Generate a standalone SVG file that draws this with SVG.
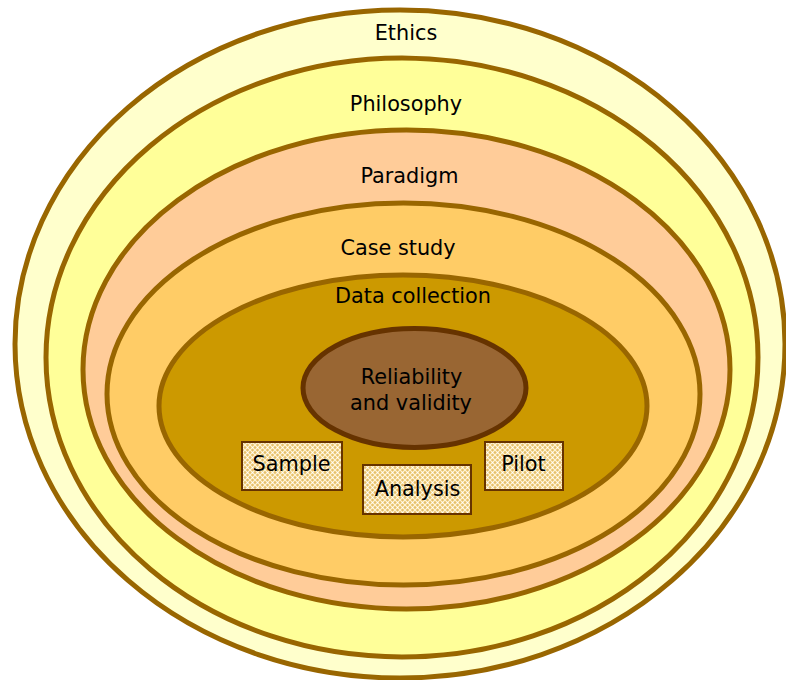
<svg xmlns="http://www.w3.org/2000/svg" width="786" height="680" viewBox="0 0 786 680">
  <style>
    .ring { stroke: #996600; stroke-width: 5; }
    .core { stroke: #663300; stroke-width: 5; }
    .box { fill: url(#lattice); stroke: #663300; stroke-width: 2; }
    .lbl { font-family: "DejaVu Sans", Verdana, sans-serif; font-size: 20.8px; fill: #000000; text-anchor: middle; }
  </style>
  <defs>
    <!-- tan trellis fill used by the small boxes -->
    <pattern id="lattice" width="5" height="5" patternUnits="userSpaceOnUse">
      <rect width="5" height="5" fill="#E6C06A"/>
      <path d="M0 0L5 5M5 0L0 5" stroke="#FFF4D6" stroke-width="1.2"/>
      <rect x="2" y="2" width="1.2" height="1.2" fill="#FFFFFF"/>
    </pattern>
  </defs>

  <rect width="786" height="680" fill="#FFFFFF"/>

  <g id="ethics">
    <ellipse class="ring" cx="400" cy="344" rx="385" ry="334" fill="#FFFFCC"/>
    <text class="lbl" x="406" y="40">Ethics</text>
  </g>
  <g id="philosophy">
    <ellipse class="ring" cx="402" cy="357.5" rx="356" ry="299.5" fill="#FFFF99"/>
    <text class="lbl" x="406" y="111">Philosophy</text>
  </g>
  <g id="paradigm">
    <ellipse class="ring" cx="406.5" cy="369.5" rx="323.5" ry="239.5" fill="#FFCC99"/>
    <text class="lbl" x="409.5" y="183">Paradigm</text>
  </g>
  <g id="case-study">
    <ellipse class="ring" cx="403.5" cy="394" rx="296.5" ry="191" fill="#FFCC66"/>
    <text class="lbl" x="398" y="255">Case study</text>
  </g>
  <g id="data-collection">
    <ellipse class="ring" cx="403" cy="406" rx="244" ry="131" fill="#CC9900"/>
    <text class="lbl" x="413" y="303">Data collection</text>
  </g>
  <g id="reliability">
    <ellipse class="core" cx="414.5" cy="388" rx="111.5" ry="59.5" fill="#996633"/>
    <text class="lbl" x="411.5" y="384">Reliability</text>
    <text class="lbl" x="411" y="410">and validity</text>
  </g>
  <g id="sample">
    <rect class="box" x="242" y="442" width="100" height="48"/>
    <text class="lbl" x="291.5" y="471">Sample</text>
  </g>
  <g id="analysis">
    <rect class="box" x="363" y="465" width="108" height="49"/>
    <text class="lbl" x="417.5" y="496">Analysis</text>
  </g>
  <g id="pilot">
    <rect class="box" x="485" y="442" width="78" height="48"/>
    <text class="lbl" x="523.5" y="471">Pilot</text>
  </g>
  <g id="connectors"/>
</svg>
